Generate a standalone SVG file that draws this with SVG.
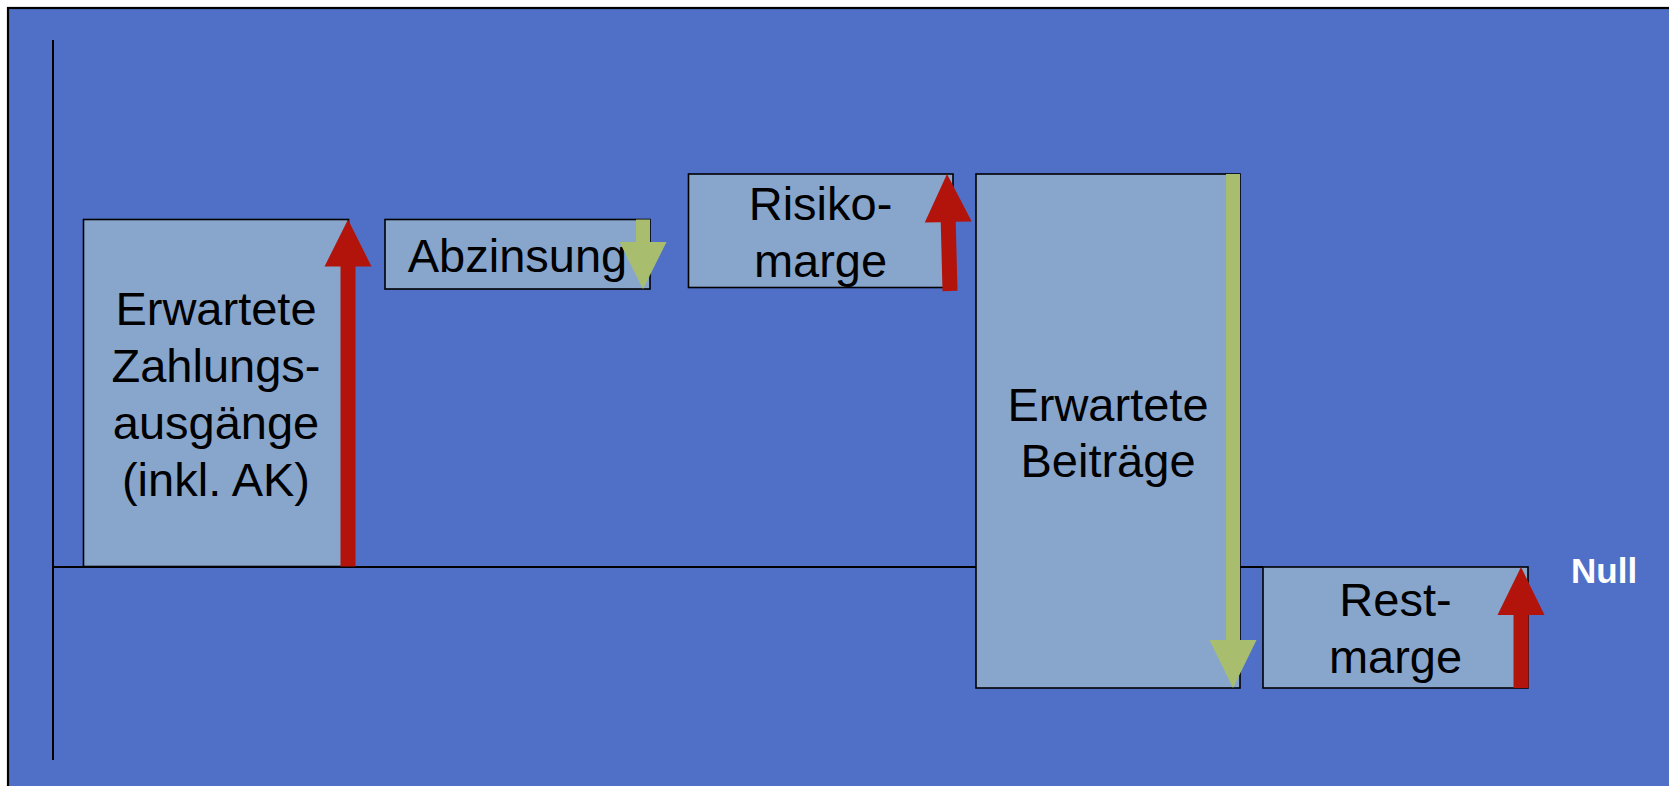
<svg xmlns="http://www.w3.org/2000/svg" width="1669" height="786" viewBox="0 0 1669 786">
  <style>
    .box { fill: #88A6CC; stroke: #000; stroke-width: 1.6; }
    .lbl { font-family: "Liberation Sans", Arial, sans-serif; font-size: 47px; fill: #000; text-anchor: middle; }
    .null { font-family: "Liberation Sans", Arial, sans-serif; font-size: 35px; font-weight: bold; fill: #fff; }
    .up { fill: #B2140C; }
    .down { fill: #A8BE6E; }
    .axis { stroke: #000; stroke-width: 2; fill: none; }
  </style>

  <!-- page and slide background -->
  <rect x="0" y="0" width="1669" height="786" fill="#fff"/>
  <rect x="8" y="8" width="1672" height="790" fill="#5070C8" stroke="#000" stroke-width="2.2"/>

  <!-- axes -->
  <g id="axes">
    <line class="axis" x1="53" y1="40" x2="53" y2="760"/>
    <line class="axis" x1="53" y1="567" x2="1263" y2="567" stroke-width="1.6"/>
  </g>

  <g id="zahlungsausgaenge">
    <rect class="box" x="83.5" y="219.5" width="265" height="347"/>
    <text class="lbl" x="216" y="325">Erwartete</text>
    <text class="lbl" x="216" y="382">Zahlungs-</text>
    <text class="lbl" x="216" y="439">ausgänge</text>
    <text class="lbl" x="216" y="496">(inkl. AK)</text>
  </g>

  <g id="abzinsung">
    <rect class="box" x="385" y="219.5" width="265" height="69.5"/>
    <text class="lbl" x="517.5" y="272">Abzinsung</text>
  </g>

  <g id="risikomarge">
    <rect class="box" x="688.5" y="174" width="264.5" height="113.5"/>
    <text class="lbl" x="820.5" y="219.5">Risiko-</text>
    <text class="lbl" x="820.5" y="276.5">marge</text>
  </g>

  <g id="beitraege">
    <rect class="box" x="976" y="174" width="264" height="514"/>
    <text class="lbl" x="1108" y="420.5">Erwartete</text>
    <text class="lbl" x="1108" y="477">Beiträge</text>
  </g>

  <g id="restmarge">
    <rect class="box" x="1263" y="567" width="265" height="121"/>
    <text class="lbl" x="1395.5" y="616">Rest-</text>
    <text class="lbl" x="1395.5" y="673">marge</text>
  </g>

  <g id="null-label">
    <text class="null" x="1571" y="583">Null</text>
  </g>

  <!-- block arrows showing the direction of each component -->
  <g id="arrows">
    <polygon class="up" points="348,219.5 371.5,266.5 355.5,266.5 355.5,566.5 340.5,566.5 340.5,266.5 324.5,266.5"/>
    <polygon class="down" points="636,219.5 650,219.5 650,242 666.5,242 643,289 619.5,242 636,242"/>
    <polygon class="up" transform="translate(947,174) rotate(-1.47)" points="0,0 23.5,48 7.5,48 7.5,117 -7.5,117 -7.5,48 -23.5,48"/>
    <polygon class="down" points="1226,174 1240,174 1240,640 1256.5,640 1233,688 1209.5,640 1226,640"/>
    <polygon class="up" points="1521,567 1544.5,615 1528.5,615 1528.5,688 1513.5,688 1513.5,615 1497.5,615"/>
  </g>
</svg>
